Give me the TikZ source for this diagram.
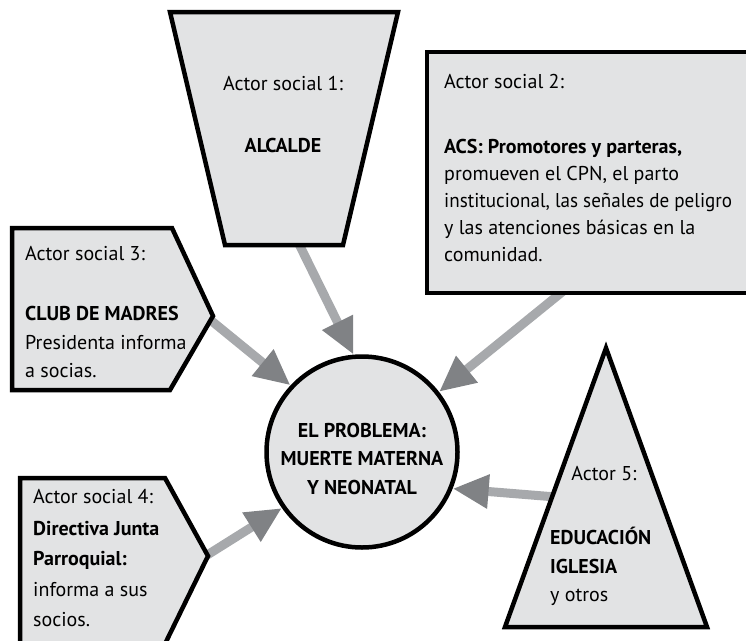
\documentclass[tikz,border=0pt]{standalone}
\usepackage{fontspec}
\setmainfont{PT Sans}
\usetikzlibrary{arrows.meta}
\definecolor{boxfill}{HTML}{E2E3E4}
\definecolor{shaftgray}{HTML}{A7A9AC}
\definecolor{headgray}{HTML}{808285}
\begin{document}
\begin{tikzpicture}[x=1pt,y=-1pt,
  actorshape/.style={draw=black,line width=4.5pt,fill=boxfill,line join=miter},
  arr/.style={draw=shaftgray,line width=9pt,-{Triangle[length=36pt,width=32pt,color=headgray]}},
  txt/.style={inner sep=0pt,anchor=base west,font=\fontsize{20}{27}\selectfont},
  ctxt/.style={inner sep=0pt,anchor=base,font=\fontsize{20}{27}\selectfont}]
\useasboundingbox (0,0) rectangle (746,640);
\clip (0,0) rectangle (746,640);

% start points of connectors
\coordinate (a1) at (297,240);
\coordinate (a2) at (567,288);
\coordinate (a3) at (208,318);
\coordinate (a4) at (204,557);
\coordinate (a5) at (556,497);

% central problem
\node[circle,draw=black,line width=4.5pt,fill=boxfill,minimum size=191pt,inner sep=0pt] (prob) at (362,452) {};

% connectors
\draw[arr] (a1) -- (prob.95);
\draw[arr] (a2) -- (prob.38);
\draw[arr] (a3) -- (prob.137);
\draw[arr] (a4) -- (prob.215);
\draw[arr] (a5) -- (prob.-22);

% actor shapes
\draw[actorshape] (170,12) -- (398,12) -- (343,245) -- (225,245) -- cycle;
\draw[actorshape] (427,52) rectangle (770,293);
\draw[actorshape] (12,228) -- (172,228) -- (213,316) -- (170,390) -- (12,390) -- cycle;
\draw[actorshape] (20,478) -- (165,478) -- (208,556) -- (162,650) -- (20,650) -- cycle;
\draw[actorshape] (606,348) -- (707,627) -- (505,627) -- cycle;

% texts actor 1
\node[ctxt] (t1a) at (283,90) {Actor social 1:};
\node[ctxt] (t1b) at (283,152) {\textbf{ALCALDE}};

% texts actor 2
\node[txt] (t2a) at (444,88) {Actor social 2:};
\node[txt] (t2b) at (444,153) {\textbf{ACS: Promotores y parteras,}};
\node[txt] (t2c) at (444,180) {promueven el CPN, el parto};
\node[txt] (t2d) at (444,207) {\scalebox{0.955}[1]{institucional, las señales de peligro}};
\node[txt] (t2e) at (444,234) {y las atenciones básicas en la};
\node[txt] (t2f) at (444,261) {comunidad.};

% texts actor 3
\node[txt] (t3a) at (25,260) {Actor social 3:};
\node[txt] (t3b) at (25,320) {\textbf{CLUB DE MADRES}};
\node[txt] (t3c) at (25,349) {Presidenta informa};
\node[txt] (t3d) at (25,377) {a socias.};

% texts actor 4
\node[txt] (t4a) at (33,503) {Actor social 4:};
\node[txt] (t4b) at (33,535) {\textbf{Directiva Junta}};
\node[txt] (t4c) at (33,565) {\textbf{Parroquial:}};
\node[txt] (t4d) at (33,596) {informa a sus};
\node[txt] (t4e) at (33,626) {socios.};

% texts actor 5
\node[ctxt] (t5a) at (604,480) {Actor 5:};
\node[txt] (t5b) at (550,544) {\textbf{EDUCACIÓN}};
\node[txt] (t5c) at (550,573) {\textbf{IGLESIA}};
\node[txt] (t5d) at (550,601) {y otros};

% problem text
\node[ctxt] (p1) at (362,437) {\textbf{EL PROBLEMA:}};
\node[ctxt] (p2) at (362,465) {\textbf{MUERTE MATERNA}};
\node[ctxt] (p3) at (362,494) {\textbf{Y NEONATAL}};
\end{tikzpicture}
\end{document}
